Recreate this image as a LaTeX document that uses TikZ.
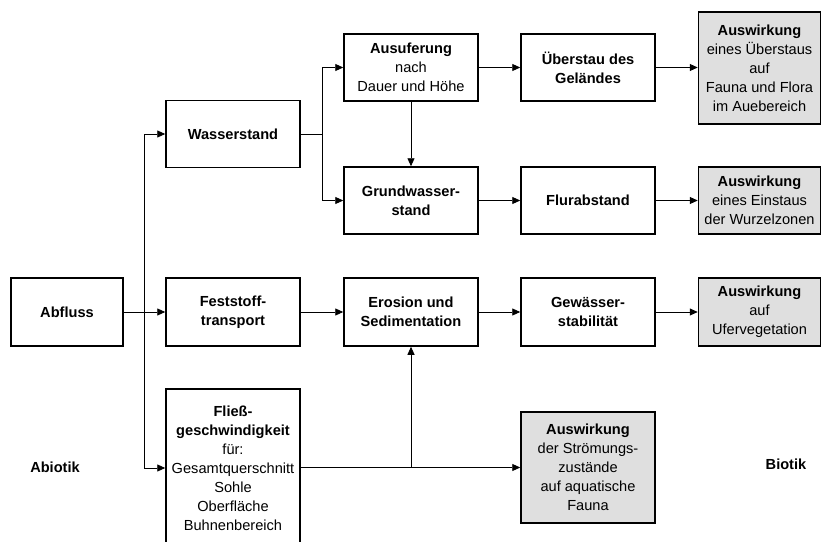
\documentclass[tikz,border=0pt]{standalone}
\usepackage{fontspec}
\setmainfont{Liberation Sans}
\usetikzlibrary{arrows.meta}
\begin{document}
\begin{tikzpicture}[x=1pt,y=-1pt,
  every node/.style={font=\fontsize{14.6}{19}\selectfont},
  box/.style={draw, line width=1.5pt, minimum width=134pt, minimum height=67pt, align=center, inner sep=0pt},
  effbox/.style={box, fill=gray!25, minimum width=122pt},
  arr/.style={line width=0.9pt, -{Triangle[length=8pt,width=7pt]}},
  ln/.style={line width=0.9pt}]
\useasboundingbox (0,0) rectangle (821,541);

\node[box] (wasser) at (233,134) {\textbf{Wasserstand}};
\node[box] (ausuf) at (411,67.5) {\textbf{Ausuferung}\\nach\\Dauer und Höhe};
\node[box] (ueber) at (588,67.5) {\textbf{Überstau des}\\\textbf{Geländes}};
\node[effbox, minimum height=112pt] (ausw1) at (759.5,68) {\textbf{Auswirkung}\\eines Überstaus\\auf\\Fauna und Flora\\im Auebereich};
\node[box] (grund) at (411,200.5) {\textbf{Grundwasser-}\\\textbf{stand}};
\node[box] (flur) at (588,200.5) {\textbf{Flurabstand}};
\node[effbox] (ausw2) at (759.5,200.5) {\textbf{Auswirkung}\\eines Einstaus\\der Wurzelzonen};
\node[box, minimum width=112pt, minimum height=68pt] (abfluss) at (67,312) {\textbf{Abfluss}};
\node[box, minimum height=68pt] (fest) at (233,312) {\textbf{Feststoff-}\\\textbf{transport}};
\node[box, minimum height=68pt] (erosion) at (411,312) {\textbf{Erosion und}\\\textbf{Sedimentation}};
\node[box, minimum height=68pt] (gew) at (588,312) {\textbf{Gewässer-}\\\textbf{stabilität}};
\node[effbox, minimum height=68pt] (ausw3) at (759.5,312) {\textbf{Auswirkung}\\auf\\Ufervegetation};
\node[box, minimum height=158pt] (fliess) at (233,468) {\textbf{Fließ-}\\\textbf{geschwindigkeit}\\für:\\Gesamtquerschnitt\\Sohle\\Oberfläche\\Buhnenbereich};
\node[effbox, minimum width=134pt, minimum height=111pt] (ausw4) at (588,467.5) {\textbf{Auswirkung}\\der Strömungs-\\zustände\\auf aquatische\\Fauna};

\node (abiotik) at (55,467) {\textbf{Abiotik}};
\node (biotik) at (786,464) {\textbf{Biotik}};

% connectors
\coordinate (s1) at (144,312);
\coordinate (s2) at (322,134);
\draw[arr] (abfluss.east) -- (fest.west);
\draw[arr] (s1) |- (wasser.west);
\draw[arr] (s1) |- (fliess.west);
\draw[ln] (wasser.east) -- (s2);
\draw[arr] (s2) |- (ausuf.west);
\draw[arr] (s2) |- (grund.west);
\draw[arr] (ausuf.south) -- (grund.north);
\draw[arr] (ausuf.east) -- (ueber.west);
\draw[arr] (ueber.east) -- (ausw1.west |- ueber.east);
\draw[arr] (grund.east) -- (flur.west);
\draw[arr] (flur.east) -- (ausw2.west);
\draw[arr] (fest.east) -- (erosion.west);
\draw[arr] (erosion.east) -- (gew.west);
\draw[arr] (gew.east) -- (ausw3.west);
\draw[arr] (fliess.east |- ausw4.west) -- (ausw4.west);
\draw[arr] (ausw4.west -| erosion.south) -- (erosion.south);
\end{tikzpicture}
\end{document}
